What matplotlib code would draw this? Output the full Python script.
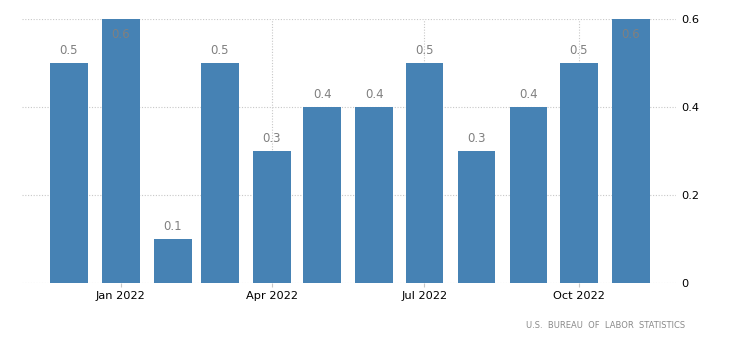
import matplotlib
matplotlib.use("Agg")
import matplotlib.pyplot as plt
import matplotlib.dates as mdates
from datetime import date

# Monthly change (%), Dec 2021 - Nov 2022
months = ["2021-12", "2022-01", "2022-02", "2022-03", "2022-04", "2022-05",
          "2022-06", "2022-07", "2022-08", "2022-09", "2022-10", "2022-11"]
values = [0.5, 0.6, 0.1, 0.5, 0.3, 0.4, 0.4, 0.5, 0.3, 0.4, 0.5, 0.6]
yticks = [0, 0.2, 0.4, 0.6]
xtick_months = ["2022-01", "2022-04", "2022-07", "2022-10"]
xtick_labels = ["Jan 2022", "Apr 2022", "Jul 2022", "Oct 2022"]
source = "U.S.  BUREAU  OF  LABOR  STATISTICS"

BAR_COLOR = "#4682b4"
LABEL_COLOR = "#808080"
GRID_COLOR = "#c8c8c8"


def mid_month(s):
    y, m = map(int, s.split("-"))
    return date(y, m, 15)


x = mdates.date2num([mid_month(m) for m in months])
xt = mdates.date2num([mid_month(m) for m in xtick_months])

fig = plt.figure(figsize=(7.30, 3.49), dpi=100)
ax = fig.add_axes([22 / 730, 1 - 283 / 349, (676 - 22) / 730, (283 - 19) / 349])

ax.bar(x, values, width=22.4, color=BAR_COLOR, zorder=2)

# value labels: above the bar, or tucked inside when it reaches the top
ymax = max(yticks)
for xi, v in zip(x, values):
    dy = -11 if v >= ymax else 9
    ax.annotate(f"{v:.1f}", xy=(xi, v), xytext=(0, dy), textcoords="offset points",
                ha="center", va="center", fontsize=8.5, color=LABEL_COLOR, zorder=3)

ax.set_xlim(mdates.date2num(date(2021, 11, 17)), mdates.date2num(date(2022, 12, 12)))
ax.set_ylim(0, ymax)

ax.set_xticks(xt)
ax.set_xticklabels(xtick_labels, fontsize=8.2, color="black")
ax.set_yticks(yticks)
ax.set_yticklabels([f"{t:g}" for t in yticks], fontsize=8.2, color="black")
ax.yaxis.tick_right()
ax.tick_params(axis="y", length=0, pad=4)
ax.tick_params(axis="x", length=3, color=GRID_COLOR, pad=3)

for s in ax.spines.values():
    s.set_visible(False)
ax.grid(True, axis="both", color=GRID_COLOR, linestyle=(0, (1, 1.5)), linewidth=0.8, zorder=0)
ax.set_axisbelow(True)

fig.text(685 / 730, 1 - 325 / 349, source, ha="right", va="center",
         fontsize=6, color="#8a8a8a")

fig.savefig("out.png", dpi=100)
